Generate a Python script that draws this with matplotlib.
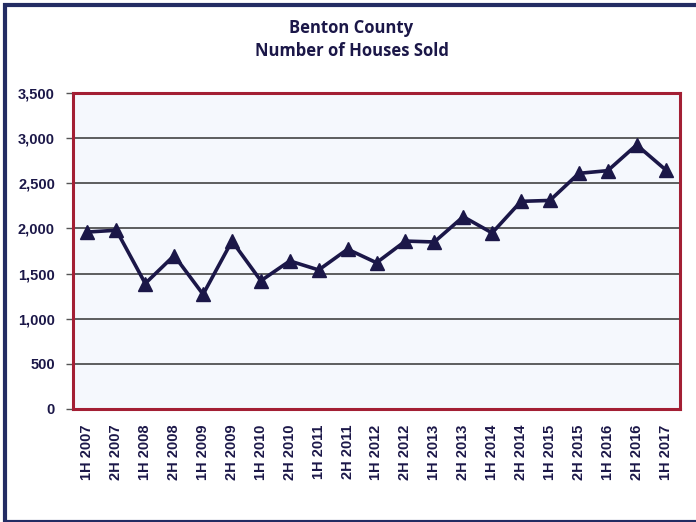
import numpy as np
import matplotlib.pyplot as plt
from matplotlib.patches import Rectangle
from matplotlib.ticker import FuncFormatter

periods = ['1H 2007', '2H 2007', '1H 2008', '2H 2008', '1H 2009', '2H 2009',
           '1H 2010', '2H 2010', '1H 2011', '2H 2011', '1H 2012', '2H 2012',
           '1H 2013', '2H 2013', '1H 2014', '2H 2014', '1H 2015', '2H 2015',
           '1H 2016', '2H 2016', '1H 2017']
houses_sold = [1960, 1980, 1390, 1700, 1270, 1860, 1420, 1640, 1540, 1770,
               1620, 1860, 1850, 2130, 1950, 2300, 2310, 2610, 2640, 2925, 2650]

navy = '#1b1748'
frame_red = '#a31f34'

fig = plt.figure(figsize=(6.96, 5.22), dpi=100)
fig.patch.set_facecolor('white')

# outer chart frame (cut off on the right side in the original)
fig.patches.append(Rectangle((5 / 696, 0.0), 1.1, 517 / 522, transform=fig.transFigure,
                             fill=False, edgecolor='#232c63', linewidth=3, zorder=0))

ax = fig.add_axes([73 / 696, 1 - 409 / 522, 607 / 696, 316 / 522])
ax.set_facecolor('#f5f8fd')

x = np.arange(len(periods))
ax.plot(x, houses_sold, color=navy, linewidth=2.6, marker='^', markersize=10.5,
        markeredgecolor=navy, markerfacecolor=navy, zorder=3)

ax.set_xlim(-0.5, len(periods) - 0.5)
ax.set_ylim(0, 3500)
ax.set_yticks(np.arange(0, 3501, 500))
ax.yaxis.set_major_formatter(FuncFormatter(lambda v, p: '{:,.0f}'.format(v)))
ax.set_xticks(x)
ax.set_xticklabels(periods, rotation=90)

for v in range(500, 3500, 500):
    ax.axhline(v, color='#333333', linewidth=1.1, zorder=1)

for s in ax.spines.values():
    s.set_color(frame_red)
    s.set_linewidth(2.2)

ax.tick_params(axis='y', length=5, width=1, color='#555555', pad=8,
               labelsize=10.5, labelcolor=navy)
ax.tick_params(axis='x', length=0, pad=11, labelsize=10.5, labelcolor=navy)
for lab in ax.get_xticklabels() + ax.get_yticklabels():
    lab.set_fontweight('bold')
    lab.set_family('Liberation Sans')

fig.text(0.505, 1 - 28 / 522, 'Benton County', ha='center', va='center',
         fontsize=12, fontweight='bold', color=navy, family='Open Sans')
fig.text(0.505, 1 - 51 / 522, 'Number of Houses Sold', ha='center', va='center',
         fontsize=12, fontweight='bold', color=navy, family='Open Sans')

fig.savefig('out.png', dpi=100)
